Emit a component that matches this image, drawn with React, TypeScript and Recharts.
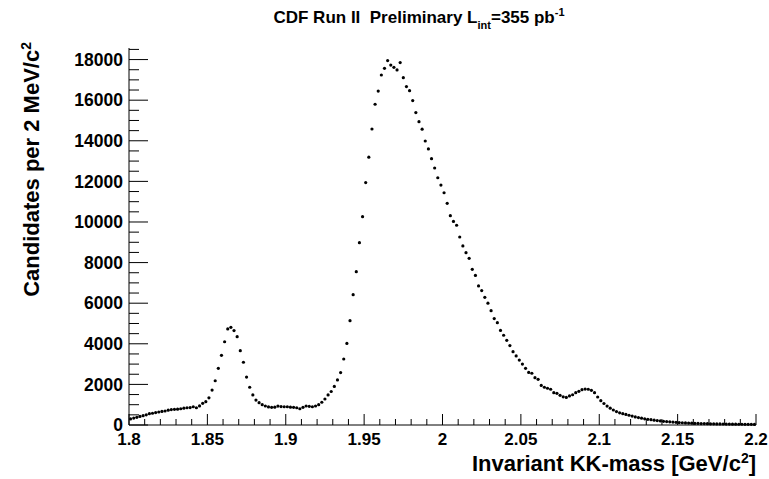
import { Scatter, ScatterChart, XAxis, YAxis } from "recharts";

const MASS_MIN = 1.8;
const MASS_MAX = 2.2;
const BIN_WIDTH = 0.002; // 2 MeV bins
const Y_MAX = 18570;

// candidates per bin
const counts1800to1900 = [
  300, 340, 380, 420, 460, 500, 560, 580, 610, 640,
  670, 690, 730, 760, 770, 780, 800, 830, 850, 860,
  900, 850, 940, 1070, 1150, 1340, 1720, 2180, 2790, 3430,
  4100, 4730, 4810, 4650, 4350, 3660, 3090, 2360, 1860, 1480,
  1230, 1100, 1000, 935, 890, 870, 880, 930, 910, 900,
];
const counts1900to2000 = [
  900, 880, 870, 850, 800, 870, 935, 920, 900, 935,
  1000, 1120, 1280, 1480, 1650, 1900, 2220, 2580, 3250, 4020,
  5140, 6420, 7550, 8980, 10260, 11940, 13190, 14580, 15800, 16450,
  17240, 17570, 17950, 17730, 17620, 17490, 17850, 17110, 16670, 16470,
  15980, 15390, 14940, 14570, 13990, 13600, 13120, 12660, 12180, 11820,
];
const counts2000to2100 = [
  11440, 10920, 10310, 10030, 9840, 9260, 8820, 8490, 8210, 7670,
  7370, 6850, 6620, 6290, 6000, 5630, 5240, 5040, 4660, 4420,
  4170, 3910, 3610, 3400, 3200, 3000, 2790, 2590, 2550, 2330,
  2250, 1950, 1860, 1810, 1760, 1590, 1560, 1460, 1390, 1360,
  1430, 1490, 1590, 1660, 1740, 1770, 1760, 1710, 1590, 1380,
];
const counts2100to2200 = [
  1200, 1060, 930, 830, 740, 660, 600, 560, 520, 480,
  440, 400, 365, 335, 305, 280, 260, 240, 220, 200,
  180, 168, 156, 145, 132, 120, 112, 104, 96, 88,
  80, 77, 72, 68, 64, 60, 58, 55, 52, 50,
  46, 44, 42, 40, 38, 36, 34, 33, 31, 30,
];

const xTickLabels = ["1.8", "1.85", "1.9", "1.95", "2", "2.05", "2.1", "2.15", "2.2"];
const yTickLabels = ["0", "2000", "4000", "6000", "8000", "10000", "12000", "14000", "16000", "18000"];

const counts = [...counts1800to1900, ...counts1900to2000, ...counts2000to2100, ...counts2100to2200];
const data = counts.map((n, i) => ({ mass: MASS_MIN + BIN_WIDTH * (i + 0.5), n }));

// minor ticks every 0.01 on x, every 500 on y
const xTicks = Array.from({ length: 41 }, (_, k) => +(MASS_MIN + k * 0.01).toFixed(2));
const yTicks = Array.from({ length: 38 }, (_, k) => k * 500);

const FONT = "'Liberation Sans', Arial, Helvetica, sans-serif";

const renderXTick = (props: any) => {
  const { x, y, index } = props;
  const major = index % 5 === 0;
  return (
    <g>
      <line x1={x} x2={x} y1={y} y2={y - (major ? 11 : 6)} stroke="#000" />
      {major && (
        <text x={x} y={y + 20} textAnchor="middle" fontSize={17} fontWeight="bold" fontFamily={FONT} fill="#000">
          {xTickLabels[index / 5]}
        </text>
      )}
    </g>
  );
};

const renderYTick = (props: any) => {
  const { x, y, index } = props;
  const major = index % 4 === 0;
  return (
    <g>
      <line x1={x} x2={x + (major ? 19 : 10)} y1={y} y2={y} stroke="#000" />
      {major && (
        <text x={x - 6} y={y} dy="0.35em" textAnchor="end" fontSize={17.5} fontWeight="bold" fontFamily={FONT} fill="#000">
          {yTickLabels[index / 4]}
        </text>
      )}
    </g>
  );
};

const Dot = (props: any) => <circle cx={props.cx} cy={props.cy} r={1.6} fill="#000" />;

export default function App() {
  return (
    <div style={{ position: "absolute", left: 0, top: 0, width: 769, height: 479, background: "#fff" }}>
      <ScatterChart width={769} height={479} margin={{ top: 48, right: 13, left: 0, bottom: 0 }}>
        <XAxis
          type="number"
          dataKey="mass"
          domain={[MASS_MIN, MASS_MAX]}
          ticks={xTicks}
          interval={0}
          tickSize={0}
          tickMargin={0}
          tickLine={false}
          tick={renderXTick}
          axisLine={{ stroke: "#000" }}
          height={54}
        />
        <XAxis xAxisId="top" type="number" orientation="top" domain={[MASS_MIN, MASS_MAX]} height={0} tick={false} tickLine={false} axisLine={{ stroke: "#000" }} />
        <YAxis
          type="number"
          dataKey="n"
          domain={[0, Y_MAX]}
          ticks={yTicks}
          interval={0}
          tickSize={0}
          tickMargin={0}
          tickLine={false}
          tick={renderYTick}
          axisLine={{ stroke: "#000" }}
          width={129}
        />
        <YAxis yAxisId="right" type="number" orientation="right" domain={[0, Y_MAX]} width={0} tick={false} tickLine={false} axisLine={{ stroke: "#000" }} />
        <Scatter data={data} shape={Dot} isAnimationActive={false} />
      </ScatterChart>
      <svg width={769} height={479} style={{ position: "absolute", left: 0, top: 0, pointerEvents: "none" }}>
        <text x={419} y={23} textAnchor="middle" fontSize={17} fontWeight="bold" fontFamily={FONT} fill="#000">
          {"CDF Run II\u00a0\u00a0Preliminary L"}
          <tspan dy={6} fontSize={11}>int</tspan>
          <tspan dy={-6}>=355 pb</tspan>
          <tspan dy={-7} fontSize={11}>-1</tspan>
        </text>
        <text x={756} y={471} textAnchor="end" fontSize={22} fontWeight="bold" fontFamily={FONT} fill="#000">
          Invariant KK-mass [GeV/c
          <tspan dy={-8} fontSize={14}>2</tspan>
          <tspan dy={8}>]</tspan>
        </text>
        <text transform="translate(39, 42) rotate(-90)" textAnchor="end" fontSize={22} fontWeight="bold" fontFamily={FONT} fill="#000">
          Candidates per 2 MeV/c
          <tspan dy={-8} fontSize={14}>2</tspan>
        </text>
      </svg>
    </div>
  );
}
